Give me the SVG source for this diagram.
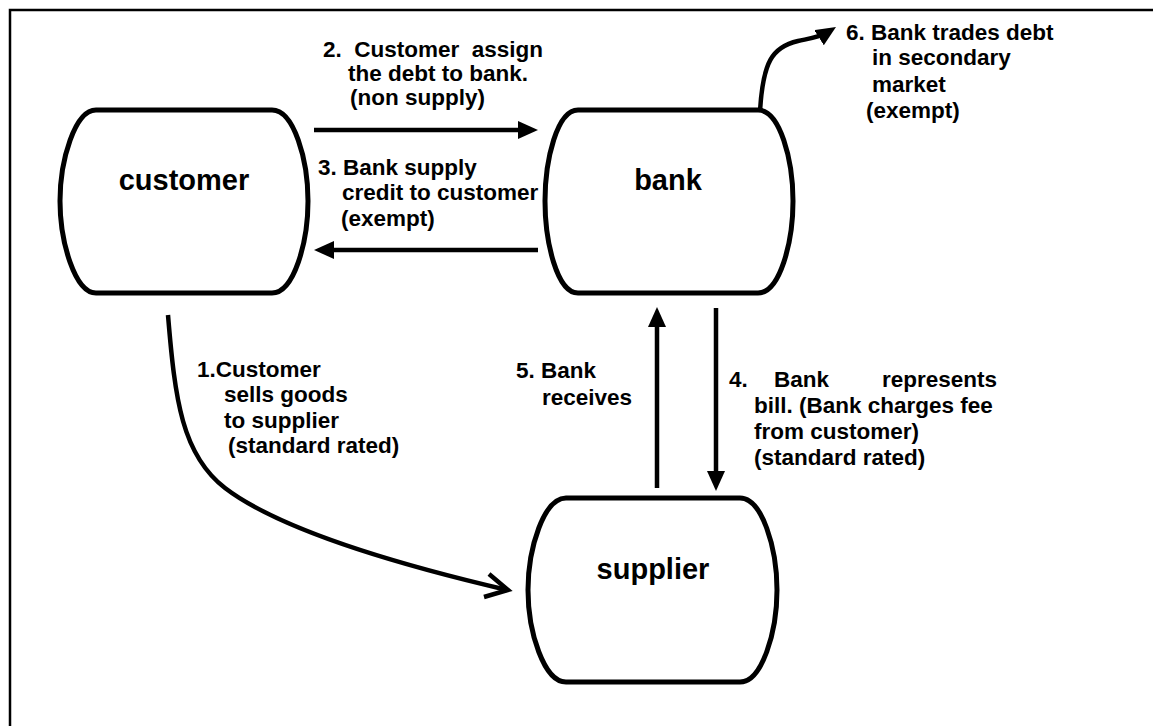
<svg xmlns="http://www.w3.org/2000/svg" width="1153" height="726" viewBox="0 0 1153 726">
<style>
.frame{fill:none;stroke:#000;stroke-width:2.5}
.node path{fill:#fff;stroke:#000;stroke-width:5}
.node text{font-family:"Liberation Sans",Arial,sans-serif;font-weight:bold;font-size:29px;fill:#000;text-anchor:middle}
.lbl{font-family:"Liberation Sans",Arial,sans-serif;font-weight:bold;font-size:22.5px;fill:#000}
.conn{fill:none;stroke:#000;stroke-width:4.5}
</style>
<defs>
<marker id="ah" viewBox="0 0 20 18" refX="10" refY="9" markerWidth="20" markerHeight="18" markerUnits="userSpaceOnUse" orient="auto">
<path d="M0,0 L20,9 L0,18 Z" fill="#000"/>
</marker>
</defs>
<rect width="1153" height="726" fill="#fff"/>
<path class="frame" d="M10,730 V10 H1160"/>
<g id="customer" class="node">
<path d="M96,110 H272 C294,110 308,160 308,201 C308,242 294,293 272,293 H96 C75,293 60,242 60,201 C60,160 75,110 96,110 Z"/>
<text x="184" y="190">customer</text>
</g>
<g id="bank" class="node">
<path d="M578,110 H758 C780,110 793,160 793,201 C793,242 780,293 758,293 H578 C557,293 545,242 545,201 C545,160 557,110 578,110 Z"/>
<text x="668" y="190">bank</text>
</g>
<g id="supplier" class="node">
<path d="M566,498 H740 C762,498 777,548 777,590 C777,632 762,682 740,682 H566 C544,682 528,632 528,590 C528,548 544,498 566,498 Z"/>
<text x="653" y="579">supplier</text>
</g>
<g id="connectors">
<line class="conn" x1="314" y1="130" x2="528" y2="130" marker-end="url(#ah)"/>
<line class="conn" x1="538" y1="250" x2="324" y2="250" marker-end="url(#ah)"/>
<line class="conn" x1="657" y1="488" x2="657" y2="317" marker-end="url(#ah)"/>
<line class="conn" x1="716" y1="308" x2="716" y2="481" marker-end="url(#ah)"/>
<path class="conn" d="M760,111 C763,62 772,47 798,41 C812,38 820,37 827.5,32.3" marker-end="url(#ah)"/>
<path class="conn" d="M168,315 C175,400 182,455 225,488 C280,530 400,565 507,590"/>
<path class="conn" d="M489,574 L508,590 L484,597"/>
</g>
<g id="labels">
<text class="lbl" xml:space="preserve"><tspan x="323" y="57">2.  Customer  assign</tspan><tspan x="348" y="81">the debt to bank.</tspan><tspan x="350" y="105">(non supply)</tspan></text>
<text class="lbl"><tspan x="318" y="175">3. Bank supply</tspan><tspan x="342" y="200">credit to customer</tspan><tspan x="341" y="226">(exempt)</tspan></text>
<text class="lbl"><tspan x="846" y="40">6. Bank trades debt</tspan><tspan x="872" y="65">in secondary</tspan><tspan x="872" y="92">market</tspan><tspan x="866" y="118">(exempt)</tspan></text>
<text class="lbl"><tspan x="197" y="377">1.Customer</tspan><tspan x="224" y="402">sells goods</tspan><tspan x="224" y="428">to supplier</tspan><tspan x="228" y="453">(standard rated)</tspan></text>
<text class="lbl"><tspan x="516" y="378">5. Bank</tspan><tspan x="542" y="405">receives</tspan></text>
<text class="lbl"><tspan x="729" y="387">4.</tspan><tspan x="774" y="387">Bank</tspan><tspan x="882" y="387">represents</tspan><tspan x="754" y="413">bill. (Bank charges fee</tspan><tspan x="754" y="439">from customer)</tspan><tspan x="754" y="465">(standard rated)</tspan></text>
</g>
</svg>
